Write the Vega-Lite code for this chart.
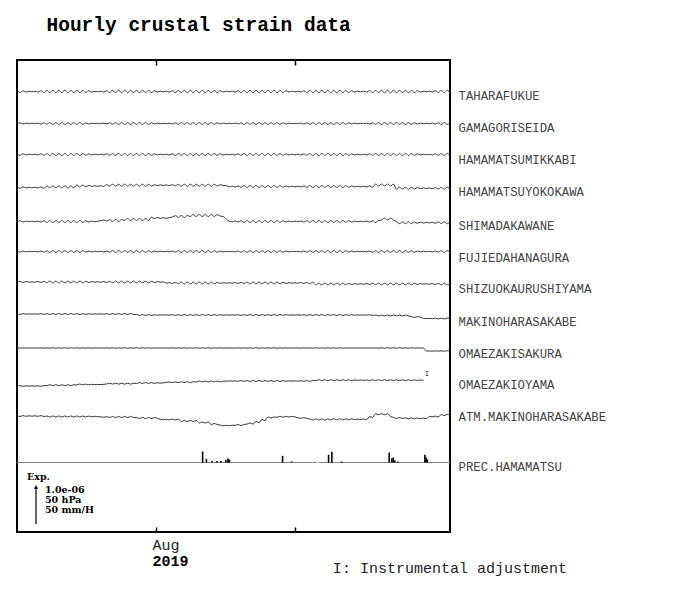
{
"$schema":"https://vega.github.io/schema/vega-lite/v6.json",
"width":433,"height":472,
"autosize":{"type":"none"},
"padding":{"left":17,"top":60,"right":250,"bottom":58},
"background":"white",
"title":{"text":"Hourly crustal strain data","anchor":"start","dx":30,"offset":24,"font":"Liberation Mono","fontSize":19.5,"fontWeight":"bold","color":"black"},
"config":{"view":{"stroke":"black","strokeWidth":2},"axis":{"grid":false,"domain":false}},
"resolve":{"axis":{"x":"independent","y":"independent"}},
"datasets":{
"strain":[
{"t":0,"a":441.6,"b":407.7,"c":378.4,"d":345.4,"e":309.6,"f":281.3,"g":249.2,"h":218.4,"i":184.1,"j":145.6,"k":116.5},
{"t":0.67,"a":439.5,"b":409.2,"c":376.7,"d":343.7,"e":311.3,"f":279.8,"g":250.7,"h":217.6,"i":183.9,"j":146.4,"k":115.5},
{"t":1.33,"a":441.3,"b":408,"c":378.2,"d":345.1,"e":309.9,"f":281,"g":249.5,"h":218.3,"i":184.1,"j":145.7,"k":116.4},
{"t":2,"a":439.9,"b":408.9,"c":377,"d":344,"e":311,"f":280.1,"g":250.4,"h":217.8,"i":183.9,"j":146.2,"k":115.7},
{"t":2.67,"a":440.8,"b":408.3,"c":377.8,"d":344.8,"e":310.2,"f":280.7,"g":249.8,"h":218.1,"i":184,"j":145.9,"k":116.2},
{"t":3.33,"a":440.2,"b":408.7,"c":377.2,"d":344.2,"e":310.8,"f":280.3,"g":250.2,"h":217.9,"i":184,"j":146.1,"k":115.8},
{"t":4,"a":440.8,"b":408.3,"c":377.8,"d":344.8,"e":310.2,"f":280.7,"g":249.8,"h":218.1,"i":184,"j":145.9,"k":116.2},
{"t":4.67,"a":439.9,"b":408.9,"c":377,"d":344,"e":311,"f":280.1,"g":250.4,"h":217.8,"i":183.9,"j":146.2,"k":115.7},
{"t":5.33,"a":441.3,"b":408,"c":378.2,"d":345.1,"e":309.9,"f":281,"g":249.5,"h":218.3,"i":184.1,"j":145.7,"k":116.4},
{"t":6,"a":439.5,"b":409.2,"c":376.7,"d":343.7,"e":311.3,"f":279.8,"g":250.7,"h":217.6,"i":183.9,"j":146.4,"k":115.5},
{"t":6.67,"a":441.6,"b":407.7,"c":378.4,"d":346.1,"e":309.6,"f":281.3,"g":249.2,"h":218.4,"i":184.1,"j":146.4,"k":116},
{"t":7.33,"a":439.3,"b":409.4,"c":376.5,"d":344.2,"e":311.5,"f":279.6,"g":250.9,"h":217.5,"i":183.8,"j":147.3,"k":114.9},
{"t":8,"a":441.8,"b":407.6,"c":378.6,"d":346.2,"e":309.5,"f":281.4,"g":249.1,"h":218.5,"i":184.2,"j":146.3,"k":116.1},
{"t":8.67,"a":439.2,"b":409.4,"c":376.4,"d":344.2,"e":311.5,"f":279.6,"g":250.9,"h":217.5,"i":183.8,"j":147.3,"k":114.9},
{"t":9.33,"a":441.7,"b":407.6,"c":378.6,"d":346.2,"e":309.5,"f":281.4,"g":249.1,"h":218.5,"i":184.2,"j":146.3,"k":116.1},
{"t":10,"a":439.2,"b":409.4,"c":376.4,"d":344.2,"e":311.5,"f":279.6,"g":250.9,"h":217.5,"i":183.8,"j":147.3,"k":114.9},
{"t":10.67,"a":441.9,"b":407.6,"c":378.6,"d":346.2,"e":309.5,"f":281.4,"g":249.1,"h":218.5,"i":184.2,"j":146.3,"k":116.1},
{"t":11.33,"a":439.2,"b":409.4,"c":376.3,"d":344.2,"e":311.5,"f":279.6,"g":250.9,"h":217.5,"i":183.8,"j":147.3,"k":114.9},
{"t":12,"a":441.7,"b":407.6,"c":378.6,"d":346.2,"e":309.5,"f":281.4,"g":249.1,"h":218.5,"i":184.2,"j":146.3,"k":116.1},
{"t":12.67,"a":439.2,"b":409.4,"c":376.4,"d":344.2,"e":311.5,"f":279.6,"g":250.9,"h":217.5,"i":183.8,"j":147.3,"k":114.9},
{"t":13.33,"a":441.8,"b":407.6,"c":378.6,"d":347,"e":309.5,"f":281.4,"g":249.1,"h":218.5,"i":184.2,"j":147,"k":116.1},
{"t":14,"a":439.3,"b":409.4,"c":376.5,"d":345,"e":311.5,"f":279.6,"g":250.9,"h":217.5,"i":183.8,"j":148,"k":114.9},
{"t":14.67,"a":441.6,"b":407.7,"c":378.4,"d":346.9,"e":309.6,"f":281.3,"g":249.2,"h":218.4,"i":184.1,"j":147.1,"k":116},
{"t":15.33,"a":439.5,"b":409.2,"c":376.7,"d":345.2,"e":311.3,"f":279.8,"g":250.7,"h":217.6,"i":183.9,"j":147.9,"k":115},
{"t":16,"a":441.3,"b":408,"c":378.2,"d":346.6,"e":309.9,"f":281,"g":249.5,"h":218.3,"i":184.1,"j":147.2,"k":115.9},
{"t":16.67,"a":439.9,"b":408.9,"c":377,"d":345.5,"e":311,"f":280.1,"g":250.4,"h":217.8,"i":183.9,"j":147.7,"k":115.2},
{"t":17.33,"a":440.8,"b":408.3,"c":377.8,"d":346.3,"e":310.2,"f":280.7,"g":249.8,"h":218.1,"i":184,"j":147.4,"k":115.7},
{"t":18,"a":440.2,"b":408.7,"c":377.2,"d":345.7,"e":310.8,"f":280.3,"g":250.2,"h":217.9,"i":184,"j":147.6,"k":115.3},
{"t":18.67,"a":440.8,"b":408.3,"c":377.8,"d":346.3,"e":311.2,"f":280.7,"g":249.8,"h":218.1,"i":184,"j":147.4,"k":115.2},
{"t":19.33,"a":439.9,"b":408.9,"c":377,"d":345.5,"e":312,"f":280.1,"g":250.4,"h":217.8,"i":183.9,"j":147.7,"k":114.7},
{"t":20,"a":441.3,"b":408,"c":378.2,"d":347.4,"e":310.9,"f":281,"g":249.5,"h":218.3,"i":184.1,"j":148,"k":115.4},
{"t":20.67,"a":439.5,"b":409.2,"c":376.7,"d":346,"e":312.3,"f":279.8,"g":250.7,"h":217.6,"i":183.9,"j":148.7,"k":114.5},
{"t":21.33,"a":441.6,"b":407.7,"c":378.4,"d":347.7,"e":310.6,"f":281.3,"g":249.2,"h":218.4,"i":184.1,"j":147.9,"k":115.5},
{"t":22,"a":439.3,"b":409.4,"c":376.5,"d":345.8,"e":312.5,"f":279.6,"g":250.9,"h":217.5,"i":183.8,"j":148.8,"k":114.4},
{"t":22.67,"a":441.8,"b":407.6,"c":378.6,"d":347.8,"e":310.5,"f":281.4,"g":249.1,"h":218.5,"i":184.2,"j":147.8,"k":115.6},
{"t":23.33,"a":439.2,"b":409.4,"c":376.4,"d":345.8,"e":312.5,"f":279.6,"g":250.9,"h":217.5,"i":183.8,"j":148.8,"k":114.4},
{"t":24,"a":441.8,"b":407.6,"c":378.6,"d":347.8,"e":311.5,"f":281.4,"g":249.1,"h":218.5,"i":184.2,"j":147.8,"k":115.6},
{"t":24.67,"a":439.2,"b":409.4,"c":376.4,"d":345.8,"e":313.5,"f":279.6,"g":250.9,"h":217.5,"i":183.8,"j":148.8,"k":114.4},
{"t":25.33,"a":441.8,"b":407.6,"c":378.6,"d":347.8,"e":311.5,"f":281.4,"g":249.1,"h":218.5,"i":184.2,"j":147.8,"k":115.6},
{"t":26,"a":439.2,"b":409.4,"c":376.4,"d":345.8,"e":313.5,"f":279.6,"g":250.9,"h":217.5,"i":183.8,"j":148.8,"k":114.4},
{"t":26.67,"a":441.8,"b":407.6,"c":378.6,"d":347.8,"e":311.5,"f":281.4,"g":249.1,"h":217.5,"i":184.2,"j":148.5,"k":114.6},
{"t":27.33,"a":439.2,"b":409.4,"c":376.4,"d":345.8,"e":313.5,"f":279.6,"g":250.9,"h":216.5,"i":183.8,"j":149.5,"k":113.4},
{"t":28,"a":441.8,"b":407.6,"c":378.6,"d":347.8,"e":311.5,"f":281.4,"g":249.1,"h":217.5,"i":184.2,"j":148.5,"k":114.6},
{"t":28.67,"a":439.3,"b":409.4,"c":376.5,"d":345.8,"e":313.5,"f":279.6,"g":250.9,"h":216.5,"i":183.8,"j":149.5,"k":113.4},
{"t":29.33,"a":441.6,"b":407.7,"c":378.4,"d":347.7,"e":311.6,"f":281.3,"g":249.2,"h":217.4,"i":184.1,"j":148.6,"k":114.5},
{"t":30,"a":439.5,"b":409.2,"c":376.7,"d":346,"e":314.8,"f":279.8,"g":250.7,"h":216.6,"i":183.9,"j":149.4,"k":113.5},
{"t":30.67,"a":441.3,"b":408,"c":378.2,"d":347.4,"e":313.4,"f":281,"g":249.5,"h":217.3,"i":184.1,"j":148.7,"k":114.4},
{"t":31.33,"a":439.9,"b":408.9,"c":377,"d":346.3,"e":314.5,"f":280.1,"g":250.4,"h":216.8,"i":183.9,"j":149.2,"k":113.7},
{"t":32,"a":440.8,"b":408.3,"c":377.8,"d":347.1,"e":313.7,"f":280.7,"g":249.8,"h":217.1,"i":184,"j":148.9,"k":112.7},
{"t":32.67,"a":440.2,"b":408.7,"c":377.2,"d":346.5,"e":314.3,"f":280.3,"g":250.2,"h":216.9,"i":184,"j":149.1,"k":112.3},
{"t":33.33,"a":440.8,"b":408.3,"c":377.8,"d":347.1,"e":313.7,"f":280.7,"g":248.8,"h":217.1,"i":184,"j":149.7,"k":112.7},
{"t":34,"a":439.9,"b":408.9,"c":377,"d":346.3,"e":314.5,"f":280.1,"g":249.4,"h":216.8,"i":183.9,"j":150,"k":112.2},
{"t":34.67,"a":441.3,"b":408,"c":378.2,"d":347.4,"e":314.9,"f":281,"g":248.5,"h":217.3,"i":184.1,"j":149.5,"k":112.9},
{"t":35.33,"a":439.5,"b":409.2,"c":376.7,"d":346,"e":316.3,"f":279.8,"g":249.7,"h":216.6,"i":183.9,"j":150.2,"k":112},
{"t":36,"a":441.6,"b":407.7,"c":378.4,"d":347.7,"e":314.6,"f":281.3,"g":248.2,"h":217.4,"i":184.1,"j":149.4,"k":113},
{"t":36.67,"a":439.3,"b":409.4,"c":376.5,"d":345.8,"e":316.5,"f":279.6,"g":249.9,"h":216.5,"i":183.8,"j":150.3,"k":110.4},
{"t":37.33,"a":441.8,"b":407.6,"c":378.6,"d":347.8,"e":314.5,"f":281.4,"g":248.1,"h":217.5,"i":184.2,"j":149.3,"k":111.6},
{"t":38,"a":439.2,"b":409.4,"c":376.4,"d":345.8,"e":316.5,"f":279.6,"g":249.9,"h":216.5,"i":183.8,"j":150.3,"k":110.4},
{"t":38.67,"a":441.8,"b":407.6,"c":378.6,"d":347.8,"e":315.5,"f":281.4,"g":248.1,"h":217.5,"i":184.2,"j":149.3,"k":111.6},
{"t":39.33,"a":439.2,"b":409.4,"c":376.4,"d":345.8,"e":317.5,"f":279.6,"g":249.9,"h":216.5,"i":183.8,"j":150.3,"k":110.4},
{"t":40,"a":441.8,"b":407.6,"c":378.6,"d":347.8,"e":315.5,"f":281.4,"g":248.1,"h":217.5,"i":184.2,"j":150,"k":111.6},
{"t":40.67,"a":439.2,"b":409.4,"c":376.4,"d":345.8,"e":317.5,"f":279.6,"g":249.9,"h":216.5,"i":183.8,"j":151,"k":108.9},
{"t":41.33,"a":441.8,"b":407.6,"c":378.6,"d":347.8,"e":315.5,"f":281.4,"g":248.1,"h":217.5,"i":184.2,"j":150,"k":110.1},
{"t":42,"a":439.2,"b":409.4,"c":376.4,"d":345.8,"e":317.5,"f":279.6,"g":249.9,"h":216.5,"i":183.8,"j":151,"k":108.9},
{"t":42.67,"a":441.8,"b":407.6,"c":378.6,"d":347.8,"e":315.5,"f":281.4,"g":248.1,"h":217.5,"i":184.2,"j":150,"k":110.1},
{"t":43.33,"a":439.3,"b":409.4,"c":376.5,"d":345.8,"e":317.5,"f":279.6,"g":249.9,"h":216.5,"i":183.8,"j":151,"k":107.4},
{"t":44,"a":441.6,"b":407.7,"c":378.4,"d":347.7,"e":315.6,"f":281.3,"g":248.2,"h":217.4,"i":184.1,"j":150.1,"k":108.5},
{"t":44.67,"a":439.5,"b":409.2,"c":376.7,"d":346,"e":317.3,"f":279.8,"g":249.7,"h":216.6,"i":183.9,"j":150.9,"k":107.5},
{"t":45.33,"a":441.3,"b":408,"c":378.2,"d":347.4,"e":315.9,"f":281,"g":248.5,"h":217.3,"i":184.1,"j":150.2,"k":106.9},
{"t":46,"a":439.9,"b":408.9,"c":377,"d":346.3,"e":315.5,"f":280.1,"g":249.4,"h":216.8,"i":183.9,"j":150.7,"k":106.2},
{"t":46.67,"a":440.8,"b":408.3,"c":377.8,"d":346.5,"e":312.7,"f":280.7,"g":248.8,"h":217.1,"i":184,"j":150.9,"k":106.7},
{"t":47.33,"a":440.2,"b":408.7,"c":377.2,"d":345.2,"e":310.8,"f":280.3,"g":249.2,"h":216.9,"i":184,"j":151.1,"k":106.3},
{"t":48,"a":440.8,"b":408.3,"c":377.8,"d":345.8,"e":310.2,"f":280.7,"g":248.8,"h":217.1,"i":184,"j":150.9,"k":106.7},
{"t":48.67,"a":439.9,"b":408.9,"c":377,"d":345,"e":311,"f":280.1,"g":249.4,"h":216.8,"i":183.9,"j":151.2,"k":106.7},
{"t":49.33,"a":441.3,"b":408,"c":378.2,"d":346.1,"e":309.9,"f":281,"g":248.5,"h":217.3,"i":184.1,"j":150.7,"k":107.4},
{"t":50,"a":439.5,"b":409.2,"c":376.7,"d":344.7,"e":311.3,"f":279.8,"g":249.7,"h":216.6,"i":183.9,"j":151.4,"k":106.5},
{"t":50.67,"a":441.6,"b":407.7,"c":378.4,"d":346.4,"e":309.6,"f":281.3,"g":248.2,"h":217.4,"i":184.1,"j":150.6,"k":107.5},
{"t":51.33,"a":439.3,"b":409.4,"c":376.5,"d":344.5,"e":311.5,"f":279.6,"g":249.9,"h":216.5,"i":183.8,"j":151.5,"k":107.9},
{"t":52,"a":441.8,"b":407.6,"c":378.6,"d":346.5,"e":309.5,"f":281.4,"g":248.1,"h":217.5,"i":184.2,"j":150.5,"k":109.1},
{"t":52.67,"a":439.2,"b":409.4,"c":376.4,"d":344.5,"e":311.5,"f":279.6,"g":249.9,"h":216.5,"i":183.8,"j":151.5,"k":107.9},
{"t":53.33,"a":441.8,"b":407.6,"c":378.6,"d":346.5,"e":309.5,"f":281.4,"g":248.1,"h":217.5,"i":184.2,"j":150.5,"k":110.6},
{"t":54,"a":439.2,"b":409.4,"c":376.4,"d":344.5,"e":311.5,"f":279.6,"g":249.9,"h":216.5,"i":183.8,"j":151.5,"k":109.4},
{"t":54.67,"a":441.8,"b":407.6,"c":378.6,"d":346.5,"e":309.5,"f":281.4,"g":248.1,"h":217.5,"i":184.2,"j":150.5,"k":112.6},
{"t":55.33,"a":439.2,"b":409.4,"c":376.4,"d":344.5,"e":311.5,"f":279.6,"g":249.9,"h":216.5,"i":183.8,"j":151.5,"k":111.4},
{"t":56,"a":441.8,"b":407.6,"c":378.6,"d":346.5,"e":309.5,"f":281.4,"g":248.1,"h":217.5,"i":184.2,"j":150.5,"k":115.1},
{"t":56.67,"a":439.2,"b":409.4,"c":376.4,"d":344.5,"e":311.5,"f":279.6,"g":249.9,"h":216.5,"i":183.8,"j":151.5,"k":113.9},
{"t":57.33,"a":441.8,"b":407.6,"c":378.6,"d":346.5,"e":309.5,"f":281.4,"g":248.1,"h":217.5,"i":184.2,"j":150.5,"k":115.1},
{"t":58,"a":439.3,"b":409.4,"c":376.5,"d":344.5,"e":311.5,"f":279.6,"g":249.9,"h":216.5,"i":183.8,"j":151.5,"k":114.7},
{"t":58.67,"a":441.6,"b":407.7,"c":378.4,"d":346.4,"e":309.6,"f":281.3,"g":248.2,"h":217.4,"i":184.1,"j":150.6,"k":115.8},
{"t":59.33,"a":439.5,"b":409.2,"c":376.7,"d":344.7,"e":311.3,"f":279.8,"g":249.7,"h":216.6,"i":183.9,"j":151.4,"k":114.8},
{"t":60,"a":441.3,"b":408,"c":378.2,"d":346.1,"e":309.9,"f":281,"g":248.5,"h":217.3,"i":184.1,"j":150.7,"k":115.7},
{"t":60.67,"a":439.9,"b":408.9,"c":377,"d":345,"e":311,"f":280.1,"g":249.4,"h":216.8,"i":183.9,"j":151.2,"k":115},
{"t":61.33,"a":440.8,"b":408.3,"c":377.8,"d":345.8,"e":310.2,"f":280.7,"g":248.8,"h":217.1,"i":184,"j":150.9,"k":115.5},
{"t":62,"a":440.2,"b":408.7,"c":377.2,"d":345.2,"e":310.8,"f":280.3,"g":249.2,"h":216.9,"i":184,"j":151.1,"k":115.1},
{"t":62.67,"a":440.8,"b":408.3,"c":377.8,"d":345.8,"e":310.2,"f":280.7,"g":248.8,"h":217.1,"i":184,"j":150.9,"k":114.2},
{"t":63.33,"a":439.9,"b":408.9,"c":377,"d":345,"e":311,"f":280.1,"g":249.4,"h":216.8,"i":183.9,"j":151.2,"k":113.7},
{"t":64,"a":441.3,"b":408,"c":378.2,"d":346.1,"e":309.9,"f":281,"g":248.5,"h":217.3,"i":184.1,"j":150.7,"k":114.4},
{"t":64.67,"a":439.5,"b":409.2,"c":376.7,"d":344.7,"e":311.3,"f":279.8,"g":249.7,"h":216.6,"i":183.9,"j":151.4,"k":113.5},
{"t":65.33,"a":441.6,"b":407.7,"c":378.4,"d":346.4,"e":309.6,"f":281.3,"g":248.2,"h":217.4,"i":184.1,"j":150.6,"k":113},
{"t":66,"a":439.3,"b":409.4,"c":376.5,"d":344.5,"e":311.5,"f":279.6,"g":249.9,"h":216.5,"i":183.8,"j":151.5,"k":111.9},
{"t":66.67,"a":441.8,"b":407.6,"c":378.6,"d":346.5,"e":309.5,"f":281.4,"g":247.1,"h":217.5,"i":184.2,"j":151.3,"k":113.1},
{"t":67.33,"a":439.2,"b":409.4,"c":376.4,"d":344.5,"e":311.5,"f":279.6,"g":248.9,"h":216.5,"i":183.8,"j":152.3,"k":111.9},
{"t":68,"a":441.8,"b":407.6,"c":378.6,"d":346.5,"e":309.5,"f":281.4,"g":247.1,"h":217.5,"i":184.2,"j":151.3,"k":113.1},
{"t":68.67,"a":439.2,"b":409.4,"c":376.4,"d":344.5,"e":311.5,"f":279.6,"g":248.9,"h":216.5,"i":183.8,"j":152.3,"k":111.9},
{"t":69.33,"a":441.8,"b":407.6,"c":378.6,"d":346.5,"e":309.5,"f":281.4,"g":247.1,"h":217.5,"i":184.2,"j":151.3,"k":113.1},
{"t":70,"a":439.2,"b":409.4,"c":376.4,"d":344.5,"e":311.5,"f":279.6,"g":248.9,"h":216.5,"i":183.8,"j":152.3,"k":112.1},
{"t":70.67,"a":441.8,"b":407.6,"c":378.6,"d":346.5,"e":309.5,"f":281.4,"g":247.1,"h":217.5,"i":184.2,"j":151.3,"k":113.3},
{"t":71.33,"a":439.2,"b":409.4,"c":376.4,"d":344.5,"e":311.5,"f":279.6,"g":248.9,"h":216.5,"i":183.8,"j":152.3,"k":112.1},
{"t":72,"a":441.8,"b":407.6,"c":378.6,"d":346.5,"e":309.5,"f":281.4,"g":247.1,"h":217.5,"i":184.2,"j":151.3,"k":113.3},
{"t":72.67,"a":439.3,"b":409.4,"c":376.5,"d":344.5,"e":311.5,"f":279.6,"g":248.9,"h":216.5,"i":183.8,"j":152.3,"k":112.1},
{"t":73.33,"a":441.6,"b":407.7,"c":378.4,"d":346.4,"e":309.6,"f":281.3,"g":247.2,"h":217.4,"i":184.1,"j":151.4,"k":113.2},
{"t":74,"a":439.5,"b":409.2,"c":376.7,"d":344.7,"e":311.3,"f":279.8,"g":248.7,"h":216.6,"i":183.9,"j":152.2,"k":112.2},
{"t":74.67,"a":441.3,"b":408,"c":378.2,"d":346.1,"e":309.9,"f":281,"g":247.5,"h":217.3,"i":184.1,"j":151.5,"k":113.1},
{"t":75.33,"a":439.9,"b":408.9,"c":377,"d":345,"e":311,"f":280.1,"g":248.4,"h":216.8,"i":183.9,"j":152,"k":112.4},
{"t":76,"a":440.8,"b":408.3,"c":377.8,"d":345.8,"e":310.2,"f":280.7,"g":247.8,"h":217.1,"i":184,"j":151.7,"k":112.9},
{"t":76.67,"a":440.2,"b":408.7,"c":377.2,"d":345.2,"e":310.8,"f":280.3,"g":248.2,"h":216.9,"i":184,"j":151.9,"k":112.5},
{"t":77.33,"a":440.8,"b":408.3,"c":377.8,"d":345.8,"e":310.2,"f":280.7,"g":247.8,"h":217.1,"i":184,"j":151.7,"k":112.9},
{"t":78,"a":439.9,"b":408.9,"c":377,"d":345,"e":311,"f":280.1,"g":248.4,"h":216.8,"i":183.9,"j":152,"k":112.4},
{"t":78.67,"a":441.3,"b":408,"c":378.2,"d":346.1,"e":309.9,"f":281,"g":247.5,"h":217.3,"i":184.1,"j":151.5,"k":115.4},
{"t":79.33,"a":439.5,"b":409.2,"c":376.7,"d":344.7,"e":311.3,"f":279.8,"g":248.7,"h":216.6,"i":183.9,"j":152.2,"k":114.5},
{"t":80,"a":441.6,"b":407.7,"c":378.4,"d":347.9,"e":309.6,"f":281.3,"g":247.2,"h":216.9,"i":184.1,"j":151.4,"k":118.3},
{"t":80.67,"a":439.3,"b":409.4,"c":376.5,"d":346,"e":311.5,"f":279.6,"g":248.9,"h":216,"i":183.8,"j":152.3,"k":117.2},
{"t":81.33,"a":441.8,"b":407.6,"c":378.6,"d":348,"e":312,"f":281.4,"g":247.1,"h":217,"i":184.2,"j":151.3,"k":118.4},
{"t":82,"a":439.2,"b":409.4,"c":376.4,"d":346,"e":314,"f":279.6,"g":248.9,"h":216,"i":183.8,"j":152.3,"k":117.2},
{"t":82.67,"a":441.8,"b":407.6,"c":378.6,"d":348,"e":312,"f":281.4,"g":247.1,"h":217,"i":184.2,"j":151.3,"k":118.4},
{"t":83.33,"a":439.2,"b":409.4,"c":376.4,"d":346,"e":314,"f":279.6,"g":248.9,"h":216,"i":183.8,"j":152.3,"k":115.4},
{"t":84,"a":441.8,"b":407.6,"c":378.6,"d":348,"e":312,"f":281.4,"g":247.1,"h":217,"i":184.2,"j":151.3,"k":114.6},
{"t":84.67,"a":439.2,"b":409.4,"c":376.4,"d":342.8,"e":310.3,"f":279.6,"g":248.9,"h":216,"i":183.8,"j":152.3,"k":113.4},
{"t":85.33,"a":441.8,"b":407.6,"c":378.6,"d":344.8,"e":308.3,"f":281.4,"g":247.1,"h":217,"i":184.2,"j":151.3,"k":114.6},
{"t":86,"a":439.2,"b":409.4,"c":376.4,"d":342.8,"e":310.3,"f":279.6,"g":248.9,"h":216,"i":183.8,"j":152.3,"k":113.4},
{"t":86.67,"a":441.8,"b":407.6,"c":378.6,"d":344.8,"e":308.3,"f":281.4,"g":247.1,"h":217,"i":184.2,"j":151.3,"k":114.3},
{"t":87.33,"a":439.3,"b":409.4,"c":376.5,"d":342.8,"e":310.3,"f":279.6,"g":248.9,"h":216,"i":183.8,"j":152.3,"k":113.1},
{"t":88,"a":441.6,"b":407.7,"c":378.4,"d":344.7,"e":308.4,"f":281.3,"g":247.2,"h":215.4,"i":184.1,"j":151.4,"k":114.2},
{"t":88.67,"a":439.5,"b":409.2,"c":376.7,"d":343,"e":310.1,"f":279.8,"g":248.7,"h":214.6,"i":183.9,"j":152.2,"k":113.2},
{"t":89.33,"a":441.3,"b":408,"c":378.2,"d":344.4,"e":308.7,"f":281,"g":247.5,"h":215.3,"i":184.1,"j":151.5,"k":114.1},
{"t":90,"a":439.9,"b":408.9,"c":377,"d":343.3,"e":309.8,"f":280.1,"g":248.4,"h":214.8,"i":183.9,"j":152,"k":113.4},
{"t":90.67,"a":440.8,"b":408.3,"c":377.8,"d":344.1,"e":309,"f":280.7,"g":247.8,"h":213.6,"i":184,"j":151.7,"k":113.9},
{"t":91.33,"a":440.2,"b":408.7,"c":377.2,"d":343.5,"e":309.6,"f":280.3,"g":248.2,"h":213.4,"i":181,"k":113.5},
{"t":92,"a":440.8,"b":408.3,"c":377.8,"d":344.1,"e":309,"f":280.7,"g":247.8,"h":213.6,"i":181,"k":115.7},
{"t":92.67,"a":439.9,"b":408.9,"c":377,"d":343.3,"e":309.8,"f":280.1,"g":248.4,"h":213.3,"i":180.9,"k":115.2},
{"t":93.33,"a":441.3,"b":408,"c":378.2,"d":344.4,"e":308.7,"f":281,"g":247.5,"h":213.8,"i":181.1,"k":115.9},
{"t":94,"a":439.5,"b":409.2,"c":376.7,"d":343,"e":310.1,"f":279.8,"g":248.7,"h":213.1,"i":180.9,"k":115},
{"t":94.67,"a":441.6,"b":407.7,"c":378.4,"d":344.7,"e":308.4,"f":281.3,"g":247.2,"h":213.9,"i":181.1,"k":117.5},
{"t":95.33,"a":439.3,"b":409.4,"c":376.5,"d":342.8,"e":310.3,"f":279.6,"g":248.9,"h":213,"i":180.8,"k":116.4},
{"t":96,"a":441.8,"b":407.6,"c":378.6,"d":344.8,"e":308.3,"f":281.4,"g":247.1,"h":214,"i":181.2,"k":117.6},
{"t":96.6,"a":439.2,"b":409.4,"c":376.4,"d":342.8,"e":310.3,"f":279.6,"g":248.9,"h":213,"i":180.8,"k":116.4}
],
"rain":[
{"t":41.41,"top":80.5},{"t":42.26,"top":73},{"t":43.49,"top":71},{"t":44.6,"top":71},{"t":45.5,"top":71},{"t":46.61,"top":72},{"t":47.06,"top":73.5},{"t":47.4,"top":72.5},
{"t":59.25,"top":76.2},{"t":61.26,"top":70.5},{"t":69.51,"top":77.2},{"t":70.25,"top":80.2},{"t":72.41,"top":70.5},
{"t":83.03,"top":79.5},{"t":83.63,"top":73.8},{"t":83.96,"top":74.5},{"t":84.3,"top":71.5},{"t":84.97,"top":70.5},
{"t":90.99,"top":77.2},{"t":91.28,"top":74.5},{"t":91.55,"top":72.5}
],
"base":[{"t":0,"t2":66.9},{"t":67.3,"t2":96.6}],
"legend":[{"t":2.23,"lv":55,"txt":"Exp."},{"t":6.24,"lv":42,"txt":"1.0e-06"},{"t":6.24,"lv":32,"txt":"50 hPa"},{"t":6.24,"lv":22,"txt":"50 mm/H"}],
"note":[{"t":70.47,"lv":-36,"txt":"I: Instrumental adjustment"}],
"adj":[{"t":91.44,"lv":158,"txt":"I"}],
"arrow":[{"t":4.24,"lv":8,"lv2":45}]
},
"layer":[
{
"data":{"name":"strain"},
"transform":[{"fold":["a","b","c","d","e","f","g","h","i","j","k"],"as":["s","v"]}],
"mark":{"type":"line","color":"#333333","strokeWidth":1,"clip":true,"interpolate":"monotone"},
"encoding":{
"x":{"field":"t","type":"quantitative","scale":{"domain":[0,96.6],"nice":false,"zero":false},
"axis":{"orient":"bottom","values":[31,62],"labels":false,"ticks":true,"tickSize":-5,"tickWidth":1.5,"tickColor":"black","domain":false,"grid":false,"title":null}},
"y":{"field":"v","type":"quantitative","scale":{"domain":[0,472],"nice":false,"zero":false},
"axis":{"orient":"right","values":[437,405,373,341,307,275,244,211,179,148,116,66],
"labelExpr":"datum.value==437?'TAHARAFUKUE':datum.value==405?'GAMAGORISEIDA':datum.value==373?'HAMAMATSUMIKKABI':datum.value==341?'HAMAMATSUYOKOKAWA':datum.value==307?'SHIMADAKAWANE':datum.value==275?'FUJIEDAHANAGURA':datum.value==244?'SHIZUOKAURUSHIYAMA':datum.value==211?'MAKINOHARASAKABE':datum.value==179?'OMAEZAKISAKURA':datum.value==148?'OMAEZAKIOYAMA':datum.value==116?'ATM.MAKINOHARASAKABE':'PREC.HAMAMATSU'",
"ticks":false,"domain":false,"grid":false,"labelPadding":8,"labelFont":"Liberation Mono","labelFontSize":12.3,"labelColor":"#444","labelBaseline":"middle","labelFlush":false,"labelOverlap":false,"title":null}},
"detail":{"field":"s"}
}
},
{
"data":{"name":"base"},
"mark":{"type":"rule","color":"#808080","strokeWidth":1},
"encoding":{
"x":{"field":"t","type":"quantitative","axis":{"orient":"top","values":[31,62],"labels":false,"ticks":true,"tickSize":-5,"tickWidth":1.5,"tickColor":"black","domain":false,"grid":false,"title":null}},
"x2":{"field":"t2"},
"y":{"datum":69.5,"type":"quantitative","axis":null}
}
},
{
"data":{"name":"rain"},
"mark":{"type":"rule","color":"black","strokeWidth":1.6},
"encoding":{
"x":{"field":"t","type":"quantitative","axis":{"orient":"bottom","values":[31],"labelExpr":"'Aug'","ticks":false,"domain":false,"grid":false,"labelAlign":"left","labelOffset":-4,"labelPadding":5,"labelFont":"Liberation Mono","labelFontSize":15,"labelColor":"#222","labelFlush":false,"title":null}},
"y":{"field":"top","type":"quantitative","axis":null},
"y2":{"datum":69.5}
}
},
{
"data":{"name":"note"},
"mark":{"type":"text","font":"Liberation Mono","fontSize":15,"color":"#222","align":"left","baseline":"middle"},
"encoding":{
"x":{"field":"t","type":"quantitative","axis":{"orient":"bottom","values":[31],"labelExpr":"'2019'","ticks":false,"domain":false,"grid":false,"labelAlign":"left","labelOffset":-4,"labelPadding":21,"labelFont":"Liberation Mono","labelFontSize":15,"labelFontWeight":"bold","labelColor":"black","labelFlush":false,"title":null}},
"y":{"field":"lv","type":"quantitative","axis":null},
"text":{"field":"txt"}
}
},
{
"data":{"name":"legend"},
"mark":{"type":"text","font":"DejaVu Serif","fontSize":9.5,"fontWeight":"bold","color":"black","align":"left","baseline":"middle"},
"encoding":{
"x":{"field":"t","type":"quantitative","axis":null},
"y":{"field":"lv","type":"quantitative","axis":null},
"text":{"field":"txt"}
}
},
{
"data":{"name":"adj"},
"mark":{"type":"text","font":"Liberation Mono","fontSize":8,"color":"#333","align":"center","baseline":"middle"},
"encoding":{
"x":{"field":"t","type":"quantitative","axis":null},
"y":{"field":"lv","type":"quantitative","axis":null},
"text":{"field":"txt"}
}
},
{
"data":{"name":"arrow"},
"mark":{"type":"rule","color":"black","strokeWidth":1.2},
"encoding":{
"x":{"field":"t","type":"quantitative","axis":null},
"y":{"field":"lv","type":"quantitative","axis":null},
"y2":{"field":"lv2"}
}
},
{
"data":{"name":"arrow"},
"mark":{"type":"point","shape":"triangle-up","filled":true,"color":"black","size":18,"opacity":1},
"encoding":{
"x":{"field":"t","type":"quantitative","axis":null},
"y":{"field":"lv2","type":"quantitative","axis":null}
}
}
]
}
